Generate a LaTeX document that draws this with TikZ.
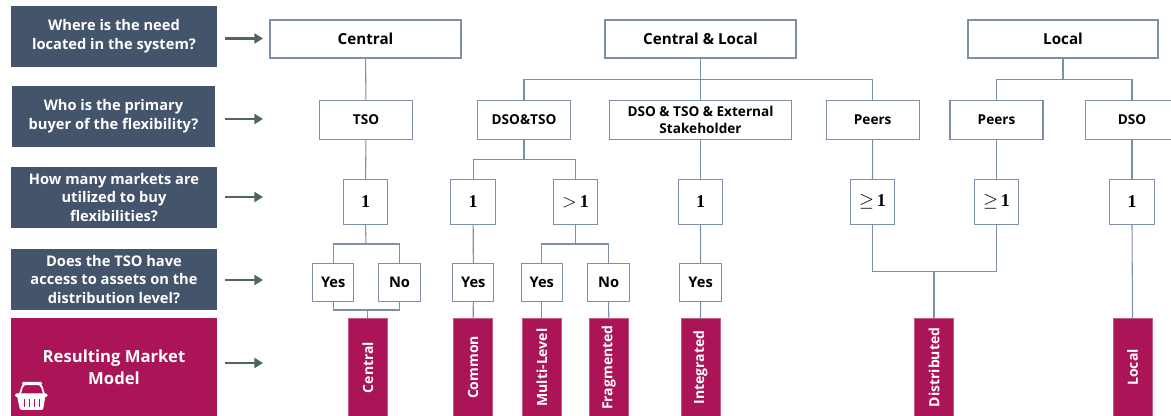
\documentclass[tikz,border=0pt]{standalone}
\usepackage[no-math]{fontspec}
\setmainfont{Open Sans}
\newfontfamily\numfont{Liberation Serif}
\usepackage{amsmath,amssymb}
\usetikzlibrary{arrows.meta}

\definecolor{slateblue}{RGB}{68,84,106}
\definecolor{berry}{RGB}{171,20,86}
\definecolor{wireblue}{RGB}{128,143,168}
\definecolor{arrowgrey}{RGB}{80,100,100}

\newcommand{\numone}{{\numfont\bfseries 1}}

\tikzset{
    sized/.style 2 args={minimum width=#1*0.75pt,minimum height=#2*0.75pt},
    question/.style={fill=slateblue,text=white,inner sep=0pt,align=center,font=\fontsize{11}{14}\selectfont\bfseries},
    result/.style={fill=berry,draw=berry!70!white,line width=0.5pt,text=white,inner sep=0pt,font=\fontsize{10.5}{13}\selectfont\bfseries},
    level/.style={draw=wireblue,fill=white,line width=0.8pt,inner sep=0pt,align=center},
    levela/.style={level,font=\fontsize{11.4}{14}\selectfont\bfseries},
    levelb/.style={level,font=\fontsize{10.2}{12.6}\selectfont\bfseries},
    levelc/.style={level,font=\fontsize{13.5}{14}\selectfont},
    leveld/.style={level,font=\fontsize{11}{14}\selectfont\bfseries},
    wire/.style={draw=wireblue,line width=0.8pt},
    pointer/.style={draw=arrowgrey,line width=1.6pt,-{Triangle[length=6.5pt,width=7.5pt]}},
}

\begin{document}
\begin{tikzpicture}[x=0.75pt,y=0.75pt,yscale=-1,xscale=1]

        \useasboundingbox (0,0) rectangle (1171,416);
        \clip (0,0) rectangle (1171,416);

        % questions on the left
        \node [question,sized={206}{61}] (qWhere) at (114,36.5) {Where is the need\\located in the system?};
        \node [question,sized={203}{61}] (qWho) at (113.5,116.5) {Who is the primary\\buyer of the flexibility?};
        \node [question,sized={206}{61}] (qMany) at (114,197.5) {How many markets are\\utilized to buy\\flexibilities?};
        \node [question,sized={206}{61}] (qAccess) at (114,279.5) {Does the TSO have\\access to assets on the\\distribution level?};
        \node [question,fill=berry,sized={206}{98},font=\fontsize{12.5}{16.5}\selectfont\bfseries] (qModel) at (114,367) {Resulting Market\\Model};

        \foreach \i/\ay in {1/38.5,2/119,3/197,4/280,5/363} {
            \coordinate (arrS\i) at (225,\ay);
            \coordinate (arrE\i) at (263,\ay);
            \draw [pointer] (arrS\i) -- (arrE\i);
        }

        % basket
        \draw [white,line width=1.3pt,rounded corners=2.5pt] (20,394) -- (23,384) -- (41,384) -- (44,394);
        \fill [white,rounded corners=1pt] (22,381.8) rectangle (42,385.2);
        \fill [white,rounded corners=1pt] (15,393.5) rectangle (47.5,397);
        \fill [white,rounded corners=1pt] (17,396) -- (45.5,396) -- (43,410) -- (20,410) -- cycle;
        \foreach \sx in {23.5,28.5,33.5,38.5}
            \fill [berry] (\sx,399) rectangle +(1.8,8);

        % where is the need
        \node [levela,sized={191}{38}] (central) at (365.5,39) {Central};
        \node [levela,sized={191}{38}] (centralLocal) at (700.5,39) {Central \& Local};
        \node [levela,sized={190}{38}] (local) at (1063,39) {Local};

        % primary buyer
        \node [levelb,sized={93}{38.5}] (tso) at (366,120) {TSO};
        \node [levelb,sized={92.5}{38.5}] (dsoTso) at (524,120) {DSO\&TSO};
        \node [levelb,sized={182.5}{38.5}] (dsoTsoExt) at (700.5,120) {DSO \& TSO \& External\\Stakeholder};
        \node [levelb,sized={93}{38.5}] (peersA) at (872.7,120) {Peers};
        \node [levelb,sized={93}{38.5}] (peersB) at (996.5,120) {Peers};
        \node [levelb,sized={93}{38.5}] (dso) at (1132,120) {DSO};

        % number of markets
        \node [levelc,sized={44.5}{44.5}] (oneTso) at (365.5,202) {\numone};
        \node [levelc,sized={44.5}{44.5}] (oneDt) at (473.2,202) {\numone};
        \node [levelc,sized={44.5}{44.5}] (moreDt) at (575.5,202) {$>$\,\numone};
        \node [levelc,sized={44.5}{44.5}] (oneExt) at (700.5,202) {\numone};
        \node [levelc,sized={44.5}{44.5}] (geqA) at (872.5,202) {$\geq$\,\numone};
        \node [levelc,sized={44.5}{44.5}] (geqB) at (996.5,202) {$\geq$\,\numone};
        \node [levelc,sized={44.5}{44.5}] (oneDso) at (1132,202) {\numone};

        % access to assets
        \node [leveld,sized={41}{38}] (yesA) at (333.2,282.3) {Yes};
        \node [leveld,sized={41.5}{38}] (noA) at (399.5,282.3) {No};
        \node [leveld,sized={41}{38}] (yesB) at (473.3,282.3) {Yes};
        \node [leveld,sized={41.5}{38}] (yesC) at (541.8,282.3) {Yes};
        \node [leveld,sized={41.5}{38}] (noC) at (608.6,282.3) {No};
        \node [leveld,sized={41.5}{38}] (yesD) at (700.6,282.3) {Yes};

        % market models
        \node [result,sized={39}{97.5}] (mCentral) at (367.8,367.5) {\rotatebox{90}{Central}};
        \node [result,sized={39}{97.5}] (mCommon) at (473.2,367.5) {\rotatebox{90}{Common}};
        \node [result,sized={39}{97.5}] (mMulti) at (541.8,367.5) {\rotatebox{90}{Multi-Level}};
        \node [result,sized={39}{97.5}] (mFrag) at (608.8,367.5) {\rotatebox{90}{Fragmented}};
        \node [result,sized={39}{97.5}] (mInt) at (700.5,367.5) {\rotatebox{90}{Integrated}};
        \node [result,sized={39}{97.5}] (mDist) at (934,367.5) {\rotatebox{90}{Distributed}};
        \node [result,sized={39}{97.5}] (mLocal) at (1132.5,367.5) {\rotatebox{90}{Local}};

        % junctions
        \coordinate (busCl) at (700.5,79.5);
        \coordinate (busLo) at (1063,79.7);
        \coordinate (busDt) at (524,159.3);
        \coordinate (busOne) at (366,244);
        \coordinate (busMore) at (575.5,244);
        \coordinate (busYn) at (367.8,310);
        \coordinate (busPeers) at (934,271.7);

        \draw [wire] (central) -- (tso);
        \draw [wire] (tso) -- (oneTso);
        \draw [wire] (centralLocal.south) -- (busCl);
        \draw [wire] (dsoTso.north) |- (busCl) -| (peersA.north);
        \draw [wire] (busCl) -- (dsoTsoExt.north);
        \draw [wire] (local.south) -- (busLo);
        \draw [wire] (peersB.north) |- (busLo) -| (dso.north);
        \draw [wire] (dsoTso.south) -- (busDt);
        \draw [wire] (oneDt.north) |- (busDt) -| (moreDt.north);
        \draw [wire] (dsoTsoExt.south) -- (oneExt.north);
        \draw [wire] (peersA.south) -- (geqA.north);
        \draw [wire] (peersB.south) -- (geqB.north);
        \draw [wire] (dso.south) -- (oneDso.north);

        \draw [wire] (oneTso.south) -- (busOne);
        \draw [wire] (yesA.north) |- (busOne) -| (noA.north);
        \draw [wire] (oneDt.south) -- (yesB.north);
        \draw [wire] (moreDt.south) -- (busMore);
        \draw [wire] (yesC.north) |- (busMore) -| (noC.north);
        \draw [wire] (oneExt.south) -- (yesD.north);

        \draw [wire] (yesA.south) |- (busYn) -| (noA.south);
        \draw [wire] (busYn) -- (mCentral.north);
        \draw [wire] (yesB.south) -- (mCommon.north);
        \draw [wire] (yesC.south) -- (mMulti.north);
        \draw [wire] (noC.south) -- (mFrag.north);
        \draw [wire] (yesD.south) -- (mInt.north);
        \draw [wire] (geqA.south) |- (busPeers) -| (geqB.south);
        \draw [wire] (busPeers) -- (mDist.north);
        \draw [wire] (oneDso.south) -- (mLocal.north);
    \end{tikzpicture}
\end{document}
